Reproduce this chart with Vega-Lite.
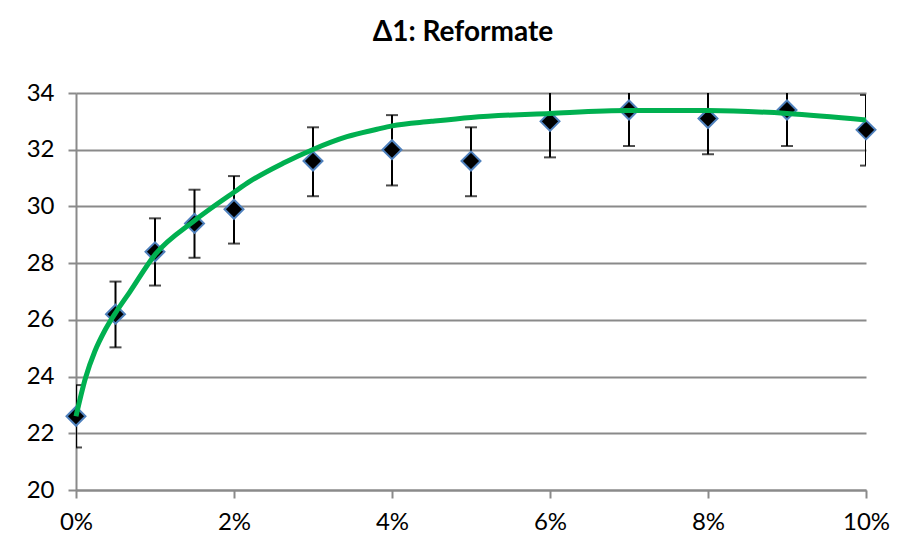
{
  "$schema": "https://vega.github.io/schema/vega-lite/v6.json",
  "autosize": "none",
  "width": 790,
  "height": 397,
  "padding": {"left": 76, "top": 93, "right": 44, "bottom": 70},
  "background": "white",
  "title": {
    "text": "Δ1: Reformate",
    "font": "Lato",
    "fontSize": 28,
    "fontWeight": "bold",
    "color": "black",
    "anchor": "middle",
    "dx": -8,
    "offset": 34
  },
  "datasets": {
    "measured": [
      {"conc": 0.0, "value": 22.6, "lo": 21.5, "hi": 23.7},
      {"conc": 0.005, "value": 26.2, "lo": 25.03, "hi": 27.35},
      {"conc": 0.01, "value": 28.4, "lo": 27.21, "hi": 29.58},
      {"conc": 0.015, "value": 29.4, "lo": 28.19, "hi": 30.59},
      {"conc": 0.02, "value": 29.9, "lo": 28.69, "hi": 31.07},
      {"conc": 0.03, "value": 31.6, "lo": 30.36, "hi": 32.79},
      {"conc": 0.04, "value": 32.0, "lo": 30.74, "hi": 33.22},
      {"conc": 0.05, "value": 31.6, "lo": 30.36, "hi": 32.79},
      {"conc": 0.06, "value": 33.0, "lo": 31.73, "hi": 34.27},
      {"conc": 0.07, "value": 33.4, "lo": 32.13, "hi": 34.67},
      {"conc": 0.08, "value": 33.1, "lo": 31.84, "hi": 34.36},
      {"conc": 0.09, "value": 33.4, "lo": 32.13, "hi": 34.67},
      {"conc": 0.1, "value": 32.7, "lo": 31.44, "hi": 33.93}
    ],
    "fit": [
      {"conc": 0.0, "value": 22.6},
      {"conc": 0.0012, "value": 23.95},
      {"conc": 0.0024, "value": 24.9},
      {"conc": 0.0037, "value": 25.65},
      {"conc": 0.0052, "value": 26.33},
      {"conc": 0.0068, "value": 26.98},
      {"conc": 0.01, "value": 28.3},
      {"conc": 0.015, "value": 29.5},
      {"conc": 0.02, "value": 30.5},
      {"conc": 0.022, "value": 30.88},
      {"conc": 0.0262, "value": 31.52},
      {"conc": 0.03, "value": 32.01},
      {"conc": 0.0343, "value": 32.46},
      {"conc": 0.0381, "value": 32.72},
      {"conc": 0.04, "value": 32.84},
      {"conc": 0.045, "value": 33.0},
      {"conc": 0.05, "value": 33.14},
      {"conc": 0.06, "value": 33.28},
      {"conc": 0.07, "value": 33.38},
      {"conc": 0.08, "value": 33.38},
      {"conc": 0.09, "value": 33.28},
      {"conc": 0.1, "value": 33.05}
    ]
  },
  "config": {
    "view": {"stroke": null},
    "axis": {
      "labelFont": "Lato",
      "labelFontSize": 24,
      "labelColor": "black",
      "domainColor": "#8a8a8a",
      "domainWidth": 2,
      "tickColor": "#8a8a8a",
      "tickWidth": 2,
      "tickSize": 8,
      "gridColor": "#8a8a8a",
      "gridWidth": 2,
      "title": null
    }
  },
  "encoding": {
    "x": {
      "field": "conc",
      "type": "quantitative",
      "scale": {"domain": [0, 0.1], "nice": false, "zero": false},
      "axis": {
        "values": [0, 0.02, 0.04, 0.06, 0.08, 0.1],
        "format": ".0%",
        "grid": false,
        "labelPadding": 12,
        "labelFlush": false
      }
    },
    "y": {
      "field": "value",
      "type": "quantitative",
      "scale": {"domain": [20, 34], "nice": false, "zero": false},
      "axis": {
        "values": [20, 22, 24, 26, 28, 30, 32, 34],
        "grid": true,
        "labelPadding": 14,
        "domain": true
      }
    }
  },
  "layer": [
    {
      "data": {"name": "measured"},
      "mark": {"type": "rule", "color": "black", "strokeWidth": 2, "clip": true},
      "encoding": {
        "y": {"field": "lo", "type": "quantitative"},
        "y2": {"field": "hi"}
      }
    },
    {
      "data": {"name": "measured"},
      "mark": {"type": "tick", "orient": "horizontal", "color": "black", "size": 12, "thickness": 2, "clip": true},
      "encoding": {
        "y": {"field": "lo", "type": "quantitative"}
      }
    },
    {
      "data": {"name": "measured"},
      "mark": {"type": "tick", "orient": "horizontal", "color": "black", "size": 12, "thickness": 2, "clip": true},
      "encoding": {
        "y": {"field": "hi", "type": "quantitative"}
      }
    },
    {
      "data": {"name": "measured"},
      "mark": {"type": "point", "shape": "diamond", "filled": true, "fill": "black", "stroke": "#4f81bd", "strokeWidth": 2, "size": 360, "opacity": 1}
    },
    {
      "data": {"name": "fit"},
      "mark": {"type": "line", "color": "#00b050", "strokeWidth": 5, "interpolate": "monotone"}
    }
  ]
}
